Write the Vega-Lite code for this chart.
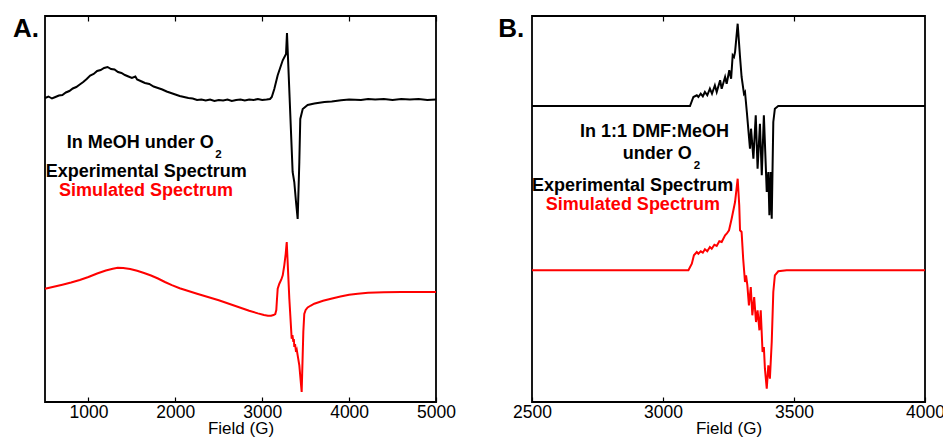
{
  "$schema": "https://vega.github.io/schema/vega-lite/v6.json",
  "padding": {"left": 12, "top": 14, "right": 0, "bottom": 0},
  "spacing": 40,
  "config": {
    "font": "Liberation Sans",
    "view": {"stroke": "black", "strokeWidth": 1.8},
    "axis": {
      "grid": false, "domain": false, "tickColor": "black", "tickSize": -5, "tickWidth": 1.2, "format": "d",
      "labelFont": "Liberation Sans", "labelFontSize": 17.5, "labelColor": "black", "labelPadding": 6, "labelFlush": false,
      "titleFont": "Liberation Sans", "titleFontSize": 17, "titleFontWeight": "normal", "titleColor": "black", "titlePadding": 0
    },
    "text": {"font": "Liberation Sans"}
  },
  "datasets": {
    "expA": [
      {"field": 500, "intensity": 304}, {"field": 540, "intensity": 305.5}, {"field": 580, "intensity": 303.5}, {"field": 620, "intensity": 305},
      {"field": 660, "intensity": 306.5}, {"field": 700, "intensity": 307}, {"field": 740, "intensity": 309.5}, {"field": 780, "intensity": 311},
      {"field": 820, "intensity": 313.5}, {"field": 860, "intensity": 315}, {"field": 900, "intensity": 317.5}, {"field": 940, "intensity": 320},
      {"field": 980, "intensity": 323}, {"field": 1020, "intensity": 326.5}, {"field": 1060, "intensity": 328}, {"field": 1100, "intensity": 331},
      {"field": 1140, "intensity": 332}, {"field": 1180, "intensity": 334}, {"field": 1220, "intensity": 335}, {"field": 1260, "intensity": 333},
      {"field": 1300, "intensity": 332.5}, {"field": 1340, "intensity": 330}, {"field": 1380, "intensity": 329}, {"field": 1420, "intensity": 327},
      {"field": 1460, "intensity": 325.5}, {"field": 1500, "intensity": 324}, {"field": 1540, "intensity": 325.5}, {"field": 1560, "intensity": 322.5},
      {"field": 1600, "intensity": 321}, {"field": 1650, "intensity": 319}, {"field": 1700, "intensity": 318}, {"field": 1750, "intensity": 315.5},
      {"field": 1800, "intensity": 314}, {"field": 1850, "intensity": 312.5}, {"field": 1900, "intensity": 310.5}, {"field": 1950, "intensity": 309},
      {"field": 2000, "intensity": 307.5}, {"field": 2050, "intensity": 306}, {"field": 2100, "intensity": 305}, {"field": 2150, "intensity": 304},
      {"field": 2200, "intensity": 303.5}, {"field": 2250, "intensity": 302}, {"field": 2300, "intensity": 302.5}, {"field": 2350, "intensity": 301.5},
      {"field": 2400, "intensity": 302.5}, {"field": 2450, "intensity": 301}, {"field": 2500, "intensity": 302}, {"field": 2550, "intensity": 301.5},
      {"field": 2600, "intensity": 302.5}, {"field": 2650, "intensity": 301}, {"field": 2700, "intensity": 302}, {"field": 2750, "intensity": 302.5},
      {"field": 2800, "intensity": 301.5}, {"field": 2850, "intensity": 302.5}, {"field": 2900, "intensity": 302}, {"field": 2950, "intensity": 303},
      {"field": 3000, "intensity": 302}, {"field": 3050, "intensity": 302.5}, {"field": 3090, "intensity": 303}, {"field": 3110, "intensity": 305},
      {"field": 3139, "intensity": 313}, {"field": 3178, "intensity": 326.7}, {"field": 3236, "intensity": 341.7}, {"field": 3274, "intensity": 348},
      {"field": 3285, "intensity": 369}, {"field": 3350, "intensity": 230}, {"field": 3369, "intensity": 220}, {"field": 3389, "intensity": 200},
      {"field": 3408, "intensity": 183}, {"field": 3427, "intensity": 240}, {"field": 3438, "intensity": 283}, {"field": 3466, "intensity": 293},
      {"field": 3523, "intensity": 297}, {"field": 3600, "intensity": 298.5}, {"field": 3715, "intensity": 300}, {"field": 3800, "intensity": 300.5},
      {"field": 3907, "intensity": 301.7}, {"field": 4000, "intensity": 302.5}, {"field": 4137, "intensity": 302}, {"field": 4218, "intensity": 303},
      {"field": 4300, "intensity": 302.5}, {"field": 4400, "intensity": 303}, {"field": 4500, "intensity": 302}, {"field": 4600, "intensity": 303},
      {"field": 4700, "intensity": 302.5}, {"field": 4800, "intensity": 303}, {"field": 4900, "intensity": 302}, {"field": 5000, "intensity": 302.5}
    ],
    "simA": [
      {"field": 500, "intensity": 113.3}, {"field": 600, "intensity": 115.3}, {"field": 700, "intensity": 117.3}, {"field": 800, "intensity": 119.5},
      {"field": 900, "intensity": 122}, {"field": 1000, "intensity": 125}, {"field": 1100, "intensity": 128.5}, {"field": 1200, "intensity": 131.5},
      {"field": 1280, "intensity": 133.3}, {"field": 1337, "intensity": 134.3}, {"field": 1400, "intensity": 134}, {"field": 1480, "intensity": 133},
      {"field": 1560, "intensity": 131.2}, {"field": 1640, "intensity": 129}, {"field": 1720, "intensity": 126.5}, {"field": 1800, "intensity": 123.5},
      {"field": 1880, "intensity": 120}, {"field": 1960, "intensity": 116.8}, {"field": 2050, "intensity": 113.8}, {"field": 2150, "intensity": 111},
      {"field": 2250, "intensity": 108.3}, {"field": 2375, "intensity": 105}, {"field": 2500, "intensity": 101.7}, {"field": 2625, "intensity": 98},
      {"field": 2750, "intensity": 94.3}, {"field": 2850, "intensity": 91.3}, {"field": 2950, "intensity": 88.6}, {"field": 3020, "intensity": 87},
      {"field": 3066, "intensity": 86.2}, {"field": 3101, "intensity": 86.3}, {"field": 3130, "intensity": 87}, {"field": 3150, "intensity": 88},
      {"field": 3162, "intensity": 92}, {"field": 3170, "intensity": 103}, {"field": 3178, "intensity": 113.3},
      {"field": 3197, "intensity": 118.3}, {"field": 3220, "intensity": 122.5}, {"field": 3236, "intensity": 126.7}, {"field": 3254, "intensity": 136.7}, {"field": 3270, "intensity": 148},
      {"field": 3282, "intensity": 160}, {"field": 3312, "intensity": 103.3}, {"field": 3339, "intensity": 63.3}, {"field": 3348, "intensity": 67},
      {"field": 3358, "intensity": 60}, {"field": 3364, "intensity": 63}, {"field": 3369, "intensity": 55}, {"field": 3378, "intensity": 58},
      {"field": 3389, "intensity": 50}, {"field": 3398, "intensity": 52}, {"field": 3408, "intensity": 46.7}, {"field": 3427, "intensity": 36.7},
      {"field": 3454, "intensity": 10}, {"field": 3473, "intensity": 70}, {"field": 3484, "intensity": 88}, {"field": 3500, "intensity": 92},
      {"field": 3523, "intensity": 94.5}, {"field": 3560, "intensity": 96.5}, {"field": 3599, "intensity": 98.3}, {"field": 3650, "intensity": 99.8}, {"field": 3700, "intensity": 101.2}, {"field": 3792, "intensity": 103.3},
      {"field": 3900, "intensity": 105.5}, {"field": 4000, "intensity": 107.2}, {"field": 4100, "intensity": 108.3}, {"field": 4218, "intensity": 109.2}, {"field": 4400, "intensity": 109.8}, {"field": 4600, "intensity": 110},
      {"field": 5000, "intensity": 110}
    ],
    "expB": [
      {"field": 2500, "intensity": 296}, {"field": 3103, "intensity": 296}, {"field": 3116, "intensity": 305}, {"field": 3129, "intensity": 306.7},
      {"field": 3135, "intensity": 305}, {"field": 3144, "intensity": 308.3}, {"field": 3152, "intensity": 305.7}, {"field": 3160, "intensity": 310},
      {"field": 3169, "intensity": 306.7}, {"field": 3179, "intensity": 313.3}, {"field": 3187, "intensity": 308.3}, {"field": 3198, "intensity": 316.7},
      {"field": 3205, "intensity": 310}, {"field": 3218, "intensity": 321.7}, {"field": 3224, "intensity": 313.3}, {"field": 3237, "intensity": 325},
      {"field": 3243, "intensity": 318.3}, {"field": 3253, "intensity": 331.7}, {"field": 3260, "intensity": 323.3}, {"field": 3266, "intensity": 346.7},
      {"field": 3271, "intensity": 345}, {"field": 3275, "intensity": 350}, {"field": 3285, "intensity": 378.3}, {"field": 3294, "intensity": 345},
      {"field": 3300, "intensity": 325}, {"field": 3309, "intensity": 308.3}, {"field": 3313, "intensity": 310}, {"field": 3320, "intensity": 290},
      {"field": 3326, "intensity": 271.7}, {"field": 3332, "intensity": 253.3}, {"field": 3336, "intensity": 273.3}, {"field": 3345, "intensity": 243.3},
      {"field": 3354, "intensity": 286.7}, {"field": 3361, "intensity": 233.3}, {"field": 3370, "intensity": 278.3}, {"field": 3377, "intensity": 226.7},
      {"field": 3385, "intensity": 286.7}, {"field": 3396, "intensity": 210}, {"field": 3402, "intensity": 230}, {"field": 3406, "intensity": 186.7},
      {"field": 3411, "intensity": 230}, {"field": 3415, "intensity": 183.3}, {"field": 3421, "intensity": 280}, {"field": 3427, "intensity": 293.3},
      {"field": 3440, "intensity": 296}, {"field": 4000, "intensity": 296}
    ],
    "simB": [
      {"field": 2500, "intensity": 131.7}, {"field": 3097, "intensity": 131.7}, {"field": 3110, "intensity": 138.3}, {"field": 3118, "intensity": 146.7},
      {"field": 3129, "intensity": 150}, {"field": 3135, "intensity": 148.3}, {"field": 3144, "intensity": 150.7}, {"field": 3152, "intensity": 149.3},
      {"field": 3160, "intensity": 152.7}, {"field": 3169, "intensity": 150.7}, {"field": 3179, "intensity": 155}, {"field": 3186, "intensity": 153.3},
      {"field": 3196, "intensity": 157.3}, {"field": 3205, "intensity": 156}, {"field": 3215, "intensity": 160.7}, {"field": 3224, "intensity": 160},
      {"field": 3237, "intensity": 166.7}, {"field": 3243, "intensity": 168.3}, {"field": 3252, "intensity": 171.7}, {"field": 3262, "intensity": 183.3},
      {"field": 3275, "intensity": 200}, {"field": 3285, "intensity": 223.3}, {"field": 3291, "intensity": 196.7}, {"field": 3294, "intensity": 171.7},
      {"field": 3300, "intensity": 170}, {"field": 3306, "intensity": 143.3}, {"field": 3313, "intensity": 120}, {"field": 3317, "intensity": 126.7},
      {"field": 3322, "intensity": 116.7}, {"field": 3328, "intensity": 96.7}, {"field": 3335, "intensity": 115}, {"field": 3341, "intensity": 86.7},
      {"field": 3348, "intensity": 105}, {"field": 3355, "intensity": 80}, {"field": 3361, "intensity": 91.7}, {"field": 3368, "intensity": 71.7},
      {"field": 3373, "intensity": 91.7}, {"field": 3380, "intensity": 50}, {"field": 3385, "intensity": 55}, {"field": 3389, "intensity": 33.3},
      {"field": 3396, "intensity": 13.3}, {"field": 3402, "intensity": 36.7}, {"field": 3408, "intensity": 23.3}, {"field": 3415, "intensity": 60},
      {"field": 3421, "intensity": 110}, {"field": 3427, "intensity": 126.7}, {"field": 3440, "intensity": 130.7}, {"field": 3472, "intensity": 131.7},
      {"field": 4000, "intensity": 131.7}
    ],
    "panelA": [{"field": 131.7, "intensity": 365, "label": "A."}],
    "panelB": [{"field": 2371.4, "intensity": 365, "label": "B."}],
    "notesA": [
      {"field": 1666, "intensity": 225, "label": "Experimental Spectrum"}
    ],
    "headA": [{"field": 2442, "intensity": 254.3, "label": "In MeOH under O"}],
    "subA": [{"field": 2458, "intensity": 244.3, "label": "2"}],
    "redA": [{"field": 1662, "intensity": 206, "label": "Simulated Spectrum"}],
    "notesB": [
      {"field": 2968, "intensity": 265, "label": "In 1:1 DMF:MeOH"},
      {"field": 2884, "intensity": 211.5, "label": "Experimental Spectrum"}
    ],
    "headB": [{"field": 3110, "intensity": 242.7, "label": "under O"}],
    "subB": [{"field": 3117, "intensity": 233.3, "label": "2"}],
    "redB": [{"field": 2885, "intensity": 192.3, "label": "Simulated Spectrum"}]
  },
  "hconcat": [
    {
      "width": 391, "height": 386,
      "resolve": {"axis": {"x": "independent"}},
      "layer": [
        {
          "data": {"name": "expA"},
          "mark": {"type": "line", "color": "black", "strokeWidth": 2},
          "encoding": {
            "x": {"field": "field", "type": "quantitative", "scale": {"domain": [500, 5000], "nice": false, "zero": false},
                  "axis": {"orient": "bottom", "title": "Field (G)", "values": [1000, 2000, 3000, 4000, 5000]}},
            "y": {"field": "intensity", "type": "quantitative", "scale": {"domain": [0, 386], "nice": false, "zero": false}, "axis": null}
          }
        },
        {
          "data": {"name": "simA"},
          "mark": {"type": "line", "color": "#ff0000", "strokeWidth": 2},
          "encoding": {
            "x": {"field": "field", "type": "quantitative", "axis": {"orient": "top", "labels": false, "title": null, "values": [1000, 2000, 3000, 4000, 5000]}},
            "y": {"field": "intensity", "type": "quantitative", "axis": null}
          }
        },
        {
          "data": {"name": "panelA"},
          "mark": {"type": "text", "align": "left", "baseline": "alphabetic", "fontSize": 26, "fontWeight": "bold", "color": "black"},
          "encoding": {
            "x": {"field": "field", "type": "quantitative", "axis": null},
            "y": {"field": "intensity", "type": "quantitative", "axis": null},
            "text": {"field": "label"}
          }
        },
        {
          "data": {"name": "notesA"},
          "mark": {"type": "text", "align": "center", "baseline": "alphabetic", "fontSize": 18, "fontWeight": "bold", "color": "black"},
          "encoding": {
            "x": {"field": "field", "type": "quantitative", "axis": null},
            "y": {"field": "intensity", "type": "quantitative", "axis": null},
            "text": {"field": "label"}
          }
        },
        {
          "data": {"name": "headA"},
          "mark": {"type": "text", "align": "right", "baseline": "alphabetic", "fontSize": 18, "fontWeight": "bold", "color": "black"},
          "encoding": {
            "x": {"field": "field", "type": "quantitative", "axis": null},
            "y": {"field": "intensity", "type": "quantitative", "axis": null},
            "text": {"field": "label"}
          }
        },
        {
          "data": {"name": "subA"},
          "mark": {"type": "text", "align": "left", "baseline": "alphabetic", "fontSize": 11.5, "fontWeight": "bold", "color": "black"},
          "encoding": {
            "x": {"field": "field", "type": "quantitative", "axis": null},
            "y": {"field": "intensity", "type": "quantitative", "axis": null},
            "text": {"field": "label"}
          }
        },
        {
          "data": {"name": "redA"},
          "mark": {"type": "text", "align": "center", "baseline": "alphabetic", "fontSize": 18, "fontWeight": "bold", "color": "#ff0000"},
          "encoding": {
            "x": {"field": "field", "type": "quantitative", "axis": null},
            "y": {"field": "intensity", "type": "quantitative", "axis": null},
            "text": {"field": "label"}
          }
        }
      ]
    },
    {
      "width": 393, "height": 386,
      "resolve": {"axis": {"x": "independent"}},
      "layer": [
        {
          "data": {"name": "expB"},
          "mark": {"type": "line", "color": "black", "strokeWidth": 2},
          "encoding": {
            "x": {"field": "field", "type": "quantitative", "scale": {"domain": [2500, 4000], "nice": false, "zero": false},
                  "axis": {"orient": "bottom", "title": "Field (G)", "values": [2500, 3000, 3500, 4000]}},
            "y": {"field": "intensity", "type": "quantitative", "scale": {"domain": [0, 386], "nice": false, "zero": false}, "axis": null}
          }
        },
        {
          "data": {"name": "simB"},
          "mark": {"type": "line", "color": "#ff0000", "strokeWidth": 2},
          "encoding": {
            "x": {"field": "field", "type": "quantitative", "axis": {"orient": "top", "labels": false, "title": null, "values": [3000, 3500]}},
            "y": {"field": "intensity", "type": "quantitative", "axis": null}
          }
        },
        {
          "data": {"name": "panelB"},
          "mark": {"type": "text", "align": "left", "baseline": "alphabetic", "fontSize": 26, "fontWeight": "bold", "color": "black"},
          "encoding": {
            "x": {"field": "field", "type": "quantitative", "axis": null},
            "y": {"field": "intensity", "type": "quantitative", "axis": null},
            "text": {"field": "label"}
          }
        },
        {
          "data": {"name": "notesB"},
          "mark": {"type": "text", "align": "center", "baseline": "alphabetic", "fontSize": 18, "fontWeight": "bold", "color": "black"},
          "encoding": {
            "x": {"field": "field", "type": "quantitative", "axis": null},
            "y": {"field": "intensity", "type": "quantitative", "axis": null},
            "text": {"field": "label"}
          }
        },
        {
          "data": {"name": "headB"},
          "mark": {"type": "text", "align": "right", "baseline": "alphabetic", "fontSize": 18, "fontWeight": "bold", "color": "black"},
          "encoding": {
            "x": {"field": "field", "type": "quantitative", "axis": null},
            "y": {"field": "intensity", "type": "quantitative", "axis": null},
            "text": {"field": "label"}
          }
        },
        {
          "data": {"name": "subB"},
          "mark": {"type": "text", "align": "left", "baseline": "alphabetic", "fontSize": 11.5, "fontWeight": "bold", "color": "black"},
          "encoding": {
            "x": {"field": "field", "type": "quantitative", "axis": null},
            "y": {"field": "intensity", "type": "quantitative", "axis": null},
            "text": {"field": "label"}
          }
        },
        {
          "data": {"name": "redB"},
          "mark": {"type": "text", "align": "center", "baseline": "alphabetic", "fontSize": 18, "fontWeight": "bold", "color": "#ff0000"},
          "encoding": {
            "x": {"field": "field", "type": "quantitative", "axis": null},
            "y": {"field": "intensity", "type": "quantitative", "axis": null},
            "text": {"field": "label"}
          }
        }
      ]
    }
  ]
}
